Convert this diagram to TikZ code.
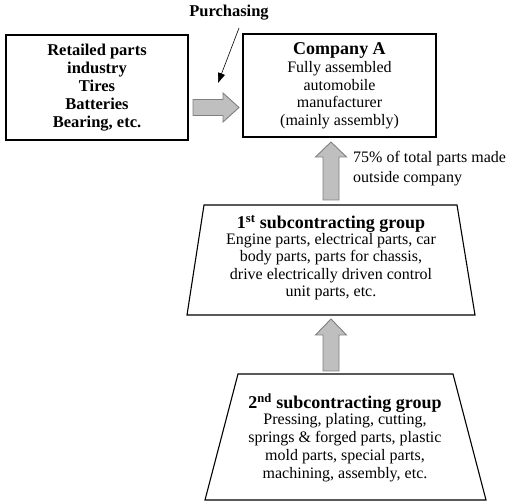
\documentclass[tikz,border=0pt]{standalone}
\usepackage{fontspec}
\setmainfont{Liberation Serif}
\usetikzlibrary{arrows.meta,calc}
\definecolor{arrfill}{HTML}{BFBFBF}
\definecolor{arrline}{HTML}{7F7F7F}
\begin{document}
\begin{tikzpicture}[x=1pt,y=-1pt,
  box/.style={draw=black, line width=1.1pt},
  blockarr/.style={draw=arrline, fill=arrfill, line width=0.9pt, line join=miter},
  reg/.style={font=\fontsize{16}{17.5}\selectfont},
  bld/.style={font=\bfseries\fontsize{16.5}{18}\selectfont},
  ttl/.style={font=\bfseries\fontsize{18}{20}\selectfont}]
\useasboundingbox (0,0) rectangle (514,502);

% left box
\node[box, bld, minimum width=182pt, minimum height=105pt, inner sep=0pt, align=center] (retail) at (97,87.5)
  {Retailed parts\\industry\\Tires\\Batteries\\Bearing, etc.};

% Company A
\node[box, minimum width=193pt, minimum height=103pt, inner sep=0pt] (compa) at (339.5,85.5) {};
\node[reg, align=center, inner sep=0pt] (compatxt) at (compa.center)
  {{\bfseries\fontsize{18}{20}\selectfont Company A}\\[1pt]Fully assembled\\automobile\\manufacturer\\(mainly assembly)};

% Purchasing
\node[bld, inner sep=0pt] (purch) at (229,13) {Purchasing};
\coordinate (pstart) at (239,28);
\coordinate (ptip) at (218,83);
\draw[line width=0.6pt, -{Stealth[length=10pt,width=7pt,inset=0pt]}] (pstart) -- (ptip);

% horizontal block arrow
\draw[blockarr] (193,99.5) -- (223,99.5) -- (223,93) -- (239,107.5) -- (223,122) -- (223,115.5) -- (193,115.5) -- cycle;

% 1st subcontracting group (trapezoid)
\coordinate (t1a) at (204,205);
\coordinate (t1b) at (457,205);
\coordinate (t1c) at (475,315);
\coordinate (t1d) at (187,315);
\draw[box, line join=miter] (t1a) -- (t1b) -- (t1c) -- (t1d) -- cycle;
\node[reg, align=center, inner sep=0pt] (sub1) at (331,258)
  {{\bfseries\fontsize{18}{20}\selectfont 1\textsuperscript{st} subcontracting group}\\[-2pt]Engine parts, electrical parts, car\\body parts, parts for chassis,\\drive electrically driven control\\unit parts, etc.};

% vertical arrow 1
\draw[blockarr] (323,200) -- (323,157) -- (315.5,157) -- (331,142) -- (346.5,157) -- (339,157) -- (339,200) -- cycle;

% 75% text
\node[font=\fontsize{16}{20.5}\selectfont, align=left, anchor=north west, inner sep=0pt] (pct) at (353,151)
  {75\% of total parts made\\outside company};

% 2nd subcontracting group
\coordinate (t2a) at (238,374);
\coordinate (t2b) at (453,374);
\coordinate (t2c) at (486,500);
\coordinate (t2d) at (205,500);
\draw[box, line join=miter] (t2a) -- (t2b) -- (t2c) -- (t2d) -- cycle;
\node[font=\fontsize{16}{18}\selectfont, align=center, inner sep=0pt] (sub2) at (345,438)
  {{\bfseries\fontsize{18}{20}\selectfont 2\textsuperscript{nd} subcontracting group}\\[-2pt]Pressing, plating, cutting,\\springs \& forged parts, plastic\\mold parts, special parts,\\machining, assembly, etc.};

% vertical arrow 2
\draw[blockarr] (323,371) -- (323,335) -- (315.5,335) -- (331,319) -- (346.5,335) -- (339,335) -- (339,371) -- cycle;
\end{tikzpicture}
\end{document}
